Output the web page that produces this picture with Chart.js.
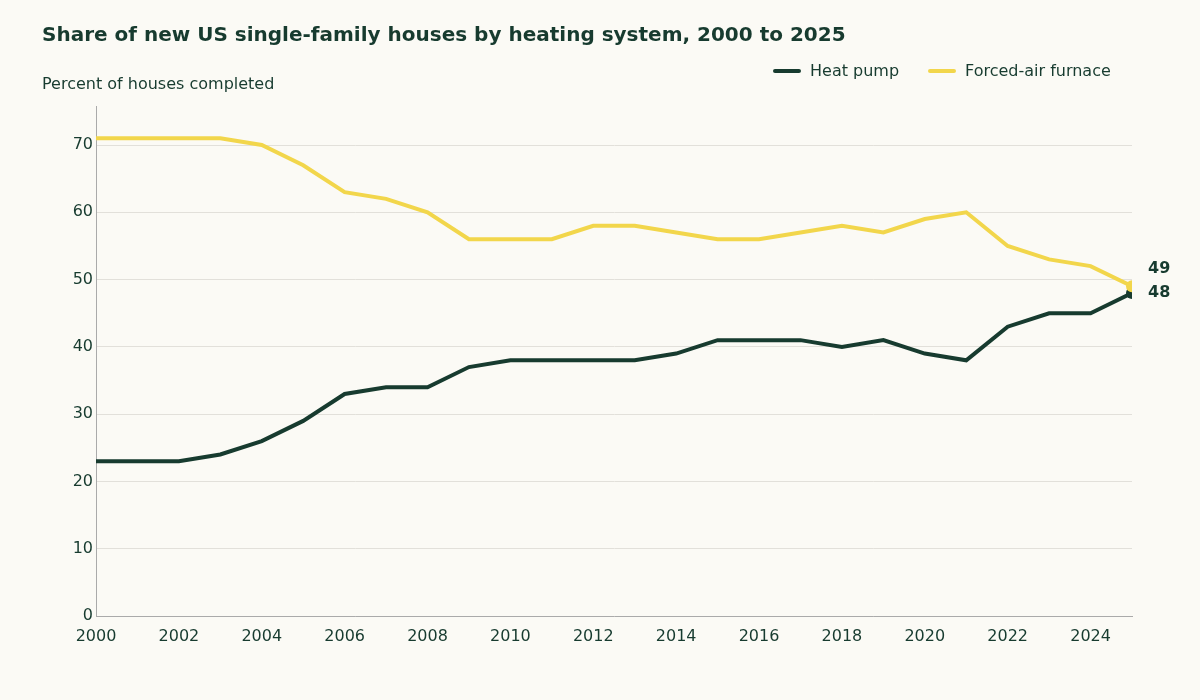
<!DOCTYPE html>
<html><head><meta charset="utf-8">
<script src="https://cdn.jsdelivr.net/npm/chart.js@4/dist/chart.umd.min.js"></script>
<style>html,body{margin:0;background:#fbfaf5;}#w{width:1200px;height:700px;}</style>
</head><body><div id="w"><canvas id="c"></canvas></div>
<script>
const years=[2000,2001,2002,2003,2004,2005,2006,2007,2008,2009,2010,2011,2012,2013,2014,2015,2016,2017,2018,2019,2020,2021,2022,2023,2024,2025];
const heatPump=[23,23,23,24,26,29,33,34,34,37,38,38,38,38,39,41,41,41,40,41,39,38,43,45,45,48];
const furnace=[71,71,71,71,70,67,63,62,60,56,56,56,58,58,57,56,56,57,58,57,59,60,55,53,52,49];
const xTicks=[2000,2002,2004,2006,2008,2010,2012,2014,2016,2018,2020,2022,2024];
const seriesNames=["Heat pump","Forced-air furnace"];
const DARK="#173b2f",YEL="#f2d64b",FONT="'DejaVu Sans', sans-serif";
const lastOnly=(n)=>years.map((y,i)=>i===n-1?6:0);
const deco={id:'deco',afterDraw(ch){const c=ch.ctx;c.save();c.fillStyle=DARK;
c.font="bold 20px "+FONT;c.textBaseline="middle";c.fillText("Share of new US single-family houses by heating system, 2000 to 2025",42,36);
c.font="16px "+FONT;c.fillText("Percent of houses completed",42,85);
const items=[[seriesNames[0],DARK,773],[seriesNames[1],YEL,928]];
items.forEach(([t,col,x])=>{c.strokeStyle=col;c.lineWidth=4;c.lineCap="round";c.beginPath();c.moveTo(x+2,71);c.lineTo(x+26,71);c.stroke();c.fillStyle=DARK;c.font="16px "+FONT;c.fillText(t,x+37,72);});
const xs=ch.scales.x;c.font="bold 16px "+FONT;c.fillStyle=DARK;
const xe=xs.getPixelForValue(years[years.length-1])+16;
c.fillText(String(furnace[furnace.length-1]),xe,269);c.fillText(String(heatPump[heatPump.length-1]),xe,293);
c.restore();}};
const bg={id:'bg',beforeDraw(ch){const c=ch.ctx;c.save();c.fillStyle="#fbfaf5";c.fillRect(0,0,ch.width,ch.height);c.restore();}};
new Chart(document.getElementById('c'),{type:'line',
data:{datasets:[
{label:seriesNames[1],data:years.map((y,i)=>({x:y,y:furnace[i]})),borderColor:YEL,backgroundColor:YEL,borderWidth:4,pointRadius:lastOnly(years.length),pointBorderWidth:0},
{label:seriesNames[0],data:years.map((y,i)=>({x:y,y:heatPump[i]})),borderColor:DARK,backgroundColor:DARK,borderWidth:4,pointRadius:lastOnly(years.length),pointBorderWidth:0}]},
options:{responsive:true,maintainAspectRatio:false,animation:false,
layout:{padding:{left:40,right:68,top:106,bottom:50}},
plugins:{legend:{display:false},tooltip:{enabled:false}},
scales:{
x:{type:'linear',min:2000,max:2025,afterFit:s=>{s.height=34;},
afterBuildTicks:s=>{s.ticks=xTicks.map(v=>({value:v}));},
ticks:{color:DARK,font:{family:FONT,size:16},callback:v=>String(v),maxRotation:0,autoSkip:false},
grid:{display:false},border:{color:"#aaa"}},
y:{min:0,max:75.8,afterFit:s=>{s.width=56;},
ticks:{stepSize:10,color:DARK,font:{family:FONT,size:16},callback:v=>v%10===0?String(v):null},
grid:{color:"#e2e0da",drawTicks:false},border:{color:"#aaa"}}}},
plugins:[bg,deco]});
</script></body></html>
